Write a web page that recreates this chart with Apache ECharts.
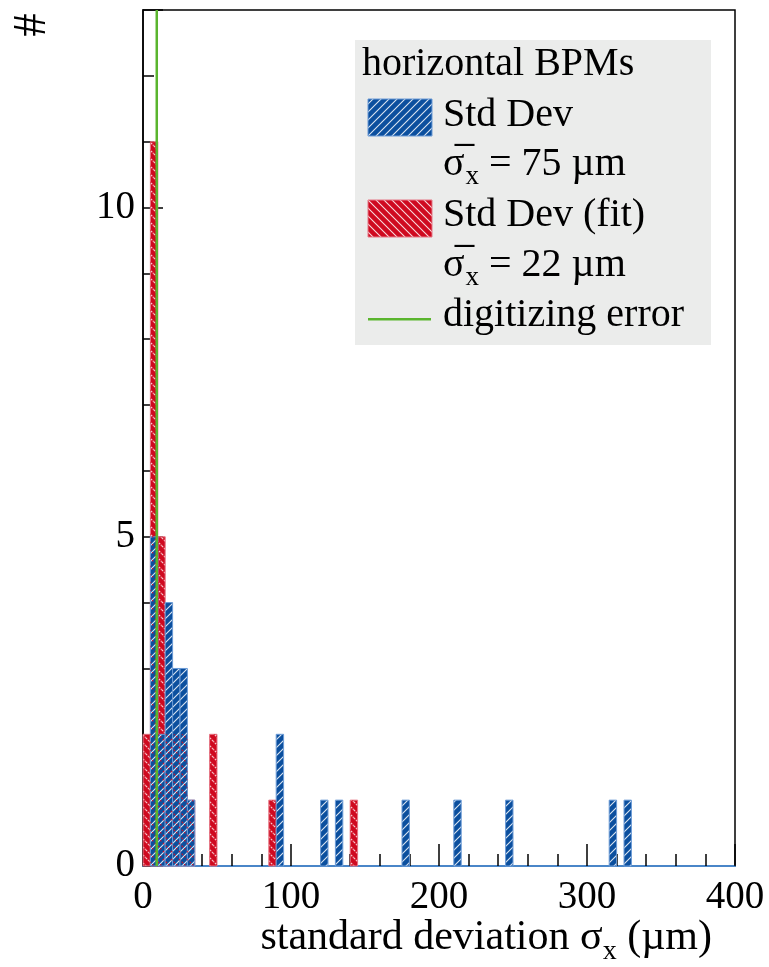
<!DOCTYPE html>
<html>
<head>
<meta charset="utf-8">
<script src="https://cdn.jsdelivr.net/npm/echarts@6/dist/echarts.min.js"></script>
<style>
html,body{margin:0;padding:0;background:#fff;}
#chart{width:769px;height:967px;}
</style>
</head>
<body>
<div id="chart"></div>
<script>
// ---- data ----
const binWidth = 5;
const blueBinStarts = [5, 10, 15, 20, 25, 30, 90, 120, 130, 175, 210, 245, 315, 325];
const blueCounts    = [5, 2, 4, 3, 3, 1, 2, 1, 1, 1, 1, 1, 1, 1];
const redBinStarts  = [0, 5, 10, 15, 20, 25, 30, 45, 85, 140];
const redCounts     = [2, 11, 5, 2, 2, 2, 1, 2, 1, 1];
const digitizingError = 9.3;
const xTicks = [0, 100, 200, 300, 400];
const yTicks = [0, 5, 10];
const legendTitle = 'horizontal BPMs';
const legendLabels = ['Std Dev', 'Std Dev (fit)', 'digitizing error'];
const meanLabels = ['= 75 µm', '= 22 µm'];

const FONT = '"Liberation Serif", "DejaVu Serif", serif';
const BLUE = '#0b4f9e', RED = '#cf0a20', GREEN = '#5ab52e';

function makePattern(bg, lineColor, dir, dashed) {
  const c = document.createElement('canvas');
  c.width = 8; c.height = 8;
  const g = c.getContext('2d');
  if (bg) { g.fillStyle = bg; g.fillRect(0, 0, 8, 8); }
  g.strokeStyle = lineColor; g.lineWidth = 1.1;
  if (dashed) g.setLineDash([2, 2]);
  g.beginPath();
  if (dir === '/') {
    g.moveTo(0, 8); g.lineTo(8, 0);
    g.moveTo(-2, 2); g.lineTo(2, -2);
    g.moveTo(6, 10); g.lineTo(10, 6);
  } else {
    g.moveTo(0, 0); g.lineTo(8, 8);
    g.moveTo(-2, 6); g.lineTo(2, 10);
    g.moveTo(6, -2); g.lineTo(10, 2);
  }
  g.stroke();
  return { image: c, repeat: 'repeat' };
}
const bluePat = makePattern(BLUE, 'rgba(255,255,255,0.85)', '/', false);
const redPat = makePattern(RED, 'rgba(255,255,255,0.85)', '\\', false);
const overlayPat = makePattern(null, 'rgba(215,20,40,0.95)', '\\', true);

function histItem(fill, stroke) {
  return function (params, api) {
    const x0 = api.value(0), c = api.value(1);
    const p0 = api.coord([x0, 0]);
    const p1 = api.coord([x0 + binWidth, c]);
    return {
      type: 'rect',
      shape: { x: p0[0], y: p1[1], width: p1[0] - p0[0], height: p0[1] - p1[1] },
      style: { fill: fill, stroke: stroke, lineWidth: stroke ? 1 : 0 }
    };
  };
}

const blueData = blueBinStarts.map((b, i) => [b, blueCounts[i]]);
const redData = redBinStarts.map((b, i) => [b, redCounts[i]]);

// text measuring for composite labels
const mctx = document.createElement('canvas').getContext('2d');
function tw(text, size) { mctx.font = size + 'px ' + FONT; return mctx.measureText(text).width; }

function txt(text, x, baseline, size, align) {
  return {
    type: 'text', x: x, y: baseline - 0.34 * size, z: 100,
    style: { text: text, font: size + 'px ' + FONT, fill: '#000', align: align || 'left', verticalAlign: 'middle' }
  };
}

const graphics = [];
// legend box
graphics.push({ type: 'rect', z: 90, shape: { x: 355, y: 40, width: 356, height: 305 }, style: { fill: '#ebeceb' } });
const LFS = 40;
graphics.push(txt(legendTitle, 362, 78, LFS));
graphics.push({ type: 'rect', z: 95, shape: { x: 368, y: 99, width: 64, height: 37 }, style: { fill: bluePat, stroke: '#6a9ad6', lineWidth: 1 } });
graphics.push(txt(legendLabels[0], 443, 129, LFS));
graphics.push({ type: 'rect', z: 95, shape: { x: 368, y: 200, width: 64, height: 37 }, style: { fill: redPat, stroke: '#e57785', lineWidth: 1 } });
graphics.push(txt(legendLabels[1], 443, 229, LFS));
graphics.push({ type: 'rect', z: 95, shape: { x: 368, y: 318, width: 63, height: 2.5 }, style: { fill: GREEN } });
graphics.push(txt(legendLabels[2], 443, 329, LFS));
const sigmaW = tw('σ', LFS) || 21;
const subW = tw('x', 27) || 13;
[178, 279].forEach((bl, i) => {
  // sigma with combining overline
  graphics.push(txt('σ\u0305', 443, bl, LFS));
  graphics.push(txt('x', 443 + sigmaW + 1, bl + 8, 27));
  graphics.push(txt(' ' + meanLabels[i], 443 + sigmaW + 1 + subW, bl, LFS));
});
// x axis title
(function () {
  const FS = 42, SFS = 28, right = 712, bl = 952;
  const a = 'standard deviation σ', b = 'x', c = ' (µm)';
  const wa = tw(a, FS), wb = tw(b, SFS), wc = tw(c, FS);
  let x = right - (wa + wb + wc);
  graphics.push(txt(a, x, bl, FS)); x += wa;
  graphics.push(txt(b, x, bl + 9, SFS)); x += wb;
  graphics.push(txt(c, x, bl, FS));
})();
// y axis title
graphics.push({
  type: 'text', x: 33, y: 25, rotation: Math.PI / 2, z: 100,
  style: { text: '#', font: '46px ' + FONT, fill: '#000', align: 'center', verticalAlign: 'middle' }
});

const chart = echarts.init(document.getElementById('chart'), null, { renderer: 'canvas' });
const labelStyle = { fontFamily: FONT, fontSize: 39, color: '#000' };
chart.setOption({
  animation: false,
  backgroundColor: '#fff',
  grid: { left: 143, right: 34, top: 10, bottom: 101, show: true, borderColor: '#000', borderWidth: 1.5, backgroundColor: 'transparent' },
  xAxis: [
    {
      type: 'value', min: xTicks[0], max: xTicks[xTicks.length - 1], interval: 100, position: 'bottom',
      axisLine: { show: true, onZero: false, lineStyle: { color: '#4a86c8', width: 2 } },
      axisTick: { show: true, inside: true, length: 22, lineStyle: { color: '#000', width: 1.5 } },
      axisLabel: Object.assign({ margin: 12, formatter: v => xTicks.includes(v) ? String(v) : '' }, labelStyle),
      splitLine: { show: false }
    },
    {
      type: 'value', min: xTicks[0], max: xTicks[xTicks.length - 1], interval: 20, position: 'bottom', offset: 0,
      axisLine: { show: false },
      axisTick: { show: true, inside: true, length: 12, lineStyle: { color: '#000', width: 1.5 } },
      axisLabel: { show: false }, splitLine: { show: false }
    }
  ],
  yAxis: [
    {
      type: 'value', min: 0, max: 13, interval: 5, position: 'left',
      axisLine: { show: true, onZero: false, lineStyle: { color: '#000', width: 1.5 } },
      axisTick: { show: true, inside: true, length: 20, lineStyle: { color: '#000', width: 1.5 } },
      axisLabel: Object.assign({ margin: 8, formatter: v => yTicks.includes(v) ? String(v) : '' }, labelStyle),
      splitLine: { show: false }
    },
    {
      type: 'value', min: 0, max: 13, interval: 1, position: 'left', offset: 0,
      axisLine: { show: false },
      axisTick: { show: true, inside: true, length: 11, lineStyle: { color: '#000', width: 1.5 } },
      axisLabel: { show: false }, splitLine: { show: false }
    }
  ],
  series: [
    { name: 'Std Dev (fit)', type: 'custom', z: 3, xAxisIndex: 0, yAxisIndex: 0, renderItem: histItem(redPat, '#e57785'), data: redData, silent: true },
    { name: 'Std Dev', type: 'custom', z: 4, xAxisIndex: 0, yAxisIndex: 0, renderItem: histItem(bluePat, '#6a9ad6'), data: blueData, silent: true },
    { name: 'Std Dev (fit) overlay', type: 'custom', z: 5, xAxisIndex: 0, yAxisIndex: 0, renderItem: histItem(overlayPat, null), data: redData, silent: true },
    { name: 'digitizing error', type: 'line', z: 6, xAxisIndex: 0, yAxisIndex: 0, symbol: 'none', silent: true,
      lineStyle: { color: GREEN, width: 2.5 }, data: [[digitizingError, 0], [digitizingError, 13]] }
  ],
  graphic: graphics
});
</script>
</body>
</html>
